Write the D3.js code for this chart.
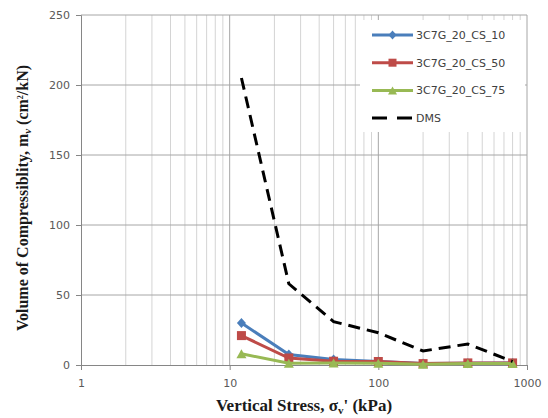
<!DOCTYPE html>
<html lang="en">
<head>
    <meta charset="UTF-8">
    <title>Volume of Compressibility</title>
    <script src="https://cdn.jsdelivr.net/npm/d3@7"></script>
    <style>
        body { margin: 0; background: #fff; }
        .tick text { font-family: 'DejaVu Sans', Verdana, sans-serif; font-size: 11px; fill: #595959; }
    </style>
</head>
<body>
    <svg width="548" height="418" id="mainsvg"></svg>
</body>
<script>
    // vertical stress (kPa)
    const stress = [12, 25, 50, 100, 200, 400, 800]
    const cs10 = [30, 7.5, 4, 2.5, 1, 1.2, 1.5]
    const cs50 = [21, 5, 2.7, 2.5, 1, 1.5, 1.5]
    const cs75 = [8, 1.2, 1.5, 1.2, 0.5, 1, 1]
    const dms = [205, 58, 31, 23, 10, 15, 2.5]
    const xTicks = [1, 10, 100, 1000]
    const yTicks = [0, 50, 100, 150, 200, 250]

    const series = [
        { name: '3C7G_20_CS_10', values: cs10, color: '#4a7ebb', marker: 'diamond' },
        { name: '3C7G_20_CS_50', values: cs50, color: '#be4b48', marker: 'square' },
        { name: '3C7G_20_CS_75', values: cs75, color: '#98b954', marker: 'triangle' },
        { name: 'DMS', values: dms, color: '#000000', marker: null, dash: '12,7' }
    ]

    const svg = d3.select('#mainsvg')
    const margin = { top: 15, right: 21, bottom: 53, left: 81 }
    const innerWidth = 548 - margin.left - margin.right
    const innerHeight = 418 - margin.top - margin.bottom

    const g = svg.append('g').attr('transform', `translate(${margin.left},${margin.top})`)

    const xScale = d3.scaleLog().domain([1, 1000]).range([0, innerWidth])
    const yScale = d3.scaleLinear().domain([0, 250]).range([innerHeight, 0])

    // grid: minor log lines
    const minor = []
    for (let d = 1; d < 1000; d *= 10)
        for (let k = 2; k <= 9; k++) minor.push(d * k)
    g.selectAll('.minor').data(minor).enter().append('line')
        .attr('x1', d => xScale(d)).attr('x2', d => xScale(d))
        .attr('y1', 0).attr('y2', innerHeight)
        .attr('stroke', '#d4d4d4').attr('stroke-width', 1)
    g.selectAll('.major').data([10, 100]).enter().append('line')
        .attr('x1', d => xScale(d)).attr('x2', d => xScale(d))
        .attr('y1', 0).attr('y2', innerHeight)
        .attr('stroke', '#a6a6a6').attr('stroke-width', 1)
    g.selectAll('.hgrid').data(yTicks.slice(1)).enter().append('line')
        .attr('x1', 0).attr('x2', innerWidth)
        .attr('y1', d => yScale(d)).attr('y2', d => yScale(d))
        .attr('stroke', '#a6a6a6').attr('stroke-width', 1)
    g.append('line').attr('x1', innerWidth).attr('x2', innerWidth)
        .attr('y1', 0).attr('y2', innerHeight).attr('stroke', '#a6a6a6')

    // axes
    const xAxis = d3.axisBottom(xScale).tickValues(xTicks).tickFormat(d3.format('d')).tickSize(5).tickPadding(9)
    const yAxis = d3.axisLeft(yScale).tickValues(yTicks).tickSize(5).tickPadding(6)
    const xg = g.append('g').attr('transform', `translate(0,${innerHeight})`).call(xAxis)
    const yg = g.append('g').call(yAxis)
    ;[xg, yg].forEach(a => {
        a.select('.domain').attr('stroke', '#868686')
        a.selectAll('.tick line').attr('stroke', '#868686')
    })

    // legend box (white, covers grid)
    const lg = g.append('g').attr('transform', `translate(${360 - margin.left},${20 - margin.top})`)
    lg.append('rect').attr('width', 165).attr('height', 112).attr('fill', '#fff')

    const line = d3.line().x((d, i) => xScale(stress[i])).y(d => yScale(d))

    function drawMarker(sel, type, color, size) {
        const h = size / 2
        if (type === 'diamond') {
            sel.append('path').attr('d', `M0,${-h - 0.5}L${h},0L0,${h + 0.5}L${-h},0Z`).attr('fill', color)
        } else if (type === 'square') {
            sel.append('rect').attr('x', -h).attr('y', -h)
                .attr('width', size).attr('height', size).attr('fill', color)
        } else if (type === 'triangle') {
            sel.append('path').attr('d', `M0,${-h}L${h + 0.5},${h}L${-h - 0.5},${h}Z`).attr('fill', color)
        }
    }

    series.forEach(s => {
        g.append('path').datum(s.values).attr('d', line)
            .attr('fill', 'none').attr('stroke', s.color).attr('stroke-width', 3)
            .attr('stroke-dasharray', s.dash || null)
        if (s.marker) {
            s.values.forEach((v, i) => {
                const m = g.append('g').attr('transform', `translate(${xScale(stress[i])},${yScale(v)})`)
                drawMarker(m, s.marker, s.color, 9)
            })
        }
    })

    // legend entries
    series.forEach((s, i) => {
        const row = lg.append('g').attr('transform', `translate(12,${15 + i * 27.7})`)
        row.append('line').attr('x1', 0).attr('x2', 41).attr('stroke', s.color)
            .attr('stroke-width', 3).attr('stroke-dasharray', s.dash ? '15,10' : null)
        if (s.marker) {
            const m = row.append('g').attr('transform', 'translate(20.5,0)')
            drawMarker(m, s.marker, s.color, 8)
        }
        row.append('text').text(s.name).attr('x', 44).attr('dy', '0.35em')
            .attr('font-family', "'DejaVu Sans', Verdana, sans-serif").attr('font-size', 11)
            .attr('fill', '#404040')
    })

    // axis titles
    const titleFont = "'Liberation Serif', 'Times New Roman', serif"
    const xt = svg.append('text').attr('x', margin.left + innerWidth / 2).attr('y', 411)
        .attr('text-anchor', 'middle').attr('font-family', titleFont)
        .attr('font-size', 17).attr('font-weight', 'bold').attr('fill', '#1a1a1a')
    xt.append('tspan').text('Vertical Stress, σ')
    xt.append('tspan').text('v').attr('font-size', 11).attr('dy', 3)
    xt.append('tspan').text("' (kPa)").attr('dy', -3)

    const yt = svg.append('text').attr('transform', 'translate(28,198) rotate(-90)')
        .attr('text-anchor', 'middle').attr('font-family', titleFont)
        .attr('font-size', 16).attr('font-weight', 'bold').attr('fill', '#1a1a1a')
    yt.append('tspan').text('Volume of Compressiblity,  m')
    yt.append('tspan').text('v').attr('font-size', 11).attr('font-style', 'italic').attr('dy', 3)
    yt.append('tspan').text('  (cm').attr('dy', -3)
    yt.append('tspan').text('2').attr('font-size', 8).attr('dy', -5)
    yt.append('tspan').text('/kN)').attr('dy', 5)
</script>
</html>
